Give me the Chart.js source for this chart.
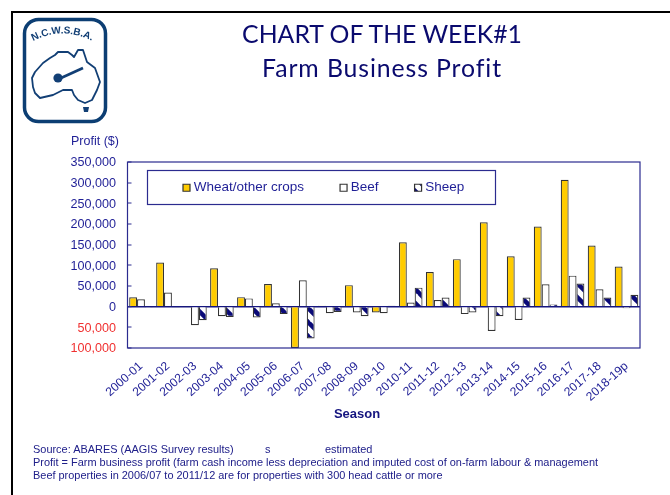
<!DOCTYPE html>
<html>
<head>
<meta charset="utf-8">
<script src="https://cdn.jsdelivr.net/npm/chart.js@4/dist/chart.umd.min.js"></script>
<style>
html,body{margin:0;padding:0;background:#fff;width:670px;height:495px;overflow:hidden}
#stage{position:relative;width:670px;height:495px}
#frame{position:absolute;left:11px;top:11px;width:659px;height:484px;border-left:2px solid #000;border-top:2px solid #000;box-sizing:border-box}
canvas{position:absolute;left:0;top:0}
.t{position:absolute;white-space:nowrap;font-family:"Liberation Sans",Arial,sans-serif;color:#1f1f96}
.title{font-family:Lato,"Open Sans",sans-serif;color:#0a0a6e;font-size:24.8px;line-height:33.5px;transform:translateX(-50%);text-align:center;font-variant-ligatures:none}
.fn{font-size:10.95px;line-height:13px;color:#20208a}
#logo{position:absolute;left:20px;top:16px}
</style>
</head>
<body>
<div id="stage">
<canvas id="c" width="670" height="495"></canvas>
<div id="frame"></div>
<svg id="logo" width="92" height="110" viewBox="20 16 92 110">
  <rect x="24.5" y="19.5" width="81" height="102" rx="14" fill="#fff" stroke="#0c3e73" stroke-width="3.5"/>
  <path id="arc" d="M33 41 Q66 24 99 45" fill="none"/>
  <text font-family="Liberation Sans,Arial,sans-serif" font-weight="bold" font-size="10" fill="#123f75"><textPath href="#arc" startOffset="0">N.C.W.S.B.A.</textPath></text>
  <path d="M32 78 L35 72 L43 63 L50 58 L55 55 L58 52 L68 52 L72 55 L74 57 L78 50 L83 50 L87 62 L95 68 L100 82 L97 90 L92 100 L85 103 L78 100 L74 95 L72 90 L63 90 L53 95 L40 98 L35 93 L33 87 Z" fill="#fff" stroke="#123f75" stroke-width="1.8" stroke-linejoin="round"/>
  <path d="M83 107 l6 0 l-1 5 l-4 0 Z" fill="#123f75"/>
  <line x1="61" y1="78" x2="83" y2="68" stroke="#123f75" stroke-width="2.8"/>
  <circle cx="58" cy="78" r="4.6" fill="#123f75"/>
</svg>
<div class="t title" style="left:382px;top:17px">CHART OF THE WEEK#1<br><span style="letter-spacing:.9px">Farm Business Profit</span></div>
<div class="t" style="left:71px;top:134px;font-size:12.5px">Profit ($)</div>
<div class="t" style="left:357px;top:406px;font-size:13px;font-weight:bold;transform:translateX(-50%);color:#14147f">Season</div>
<div class="t fn" style="left:33px;top:443px">Source: ABARES (AAGIS Survey results)</div>
<div class="t fn" style="left:265px;top:443px">s</div>
<div class="t fn" style="left:325px;top:443px">estimated</div>
<div class="t fn" style="left:33px;top:456px">Profit = Farm business profit (farm cash income less depreciation and imputed cost of on-farm labour &amp; management</div>
<div class="t fn" style="left:33px;top:469px">Beef properties in 2006/07 to 2011/12 are for properties with 300 head cattle or more</div>
</div>
<script>
const seasons = ["2000-01","2001-02","2002-03","2003-04","2004-05","2005-06","2006-07","2007-08","2008-09","2009-10","2010-11","2011-12","2012-13","2013-14","2014-15","2015-16","2016-17","2017-18","2018-19p"];
const wheat = [22500,107000,1000,93000,23000,55000,-100000,2500,52000,-14000,156000,84000,115000,204000,122000,194000,307000,148000,97000];
const beef = [18000,34000,-45000,-23000,20000,8000,64000,-16000,-14000,-16000,10000,16000,-18000,-59000,-32000,54000,75000,42000,-4000];
const sheep = [-2000,-1000,-33000,-25000,-26000,-18000,-77000,-13000,-23000,2000,46000,22000,-14000,-23000,22000,5000,56000,22000,29000];

const NAVY = "#1f1f96", RED = "#f03030", FRAME = "#2b2b8f";

function stripes(){
  const s = 14, p = document.createElement("canvas");
  p.width = s; p.height = s;
  const g = p.getContext("2d");
  g.fillStyle = "#fff"; g.fillRect(0,0,s,s);
  g.strokeStyle = "#0a0a78"; g.lineWidth = 4.5;
  for (let o = -s; o <= s; o += s){
    g.beginPath(); g.moveTo(o-1,-1); g.lineTo(o+s+1,s+1); g.stroke();
  }
  return g.createPattern(p,"repeat");
}

const frameAndLegend = {
  id:"frameAndLegend",
  beforeLayout(chart){
    chart.legend.isHorizontal = () => true;
  },
  afterLayout(chart){
    const l = chart.legend;
    l.left = 147; l.right = 660; l.top = 142; l.bottom = 210;
  },
  beforeDatasetsDraw(chart){
    const c = chart.ctx;
    c.save();
    c.strokeStyle = FRAME; c.lineWidth = 1.2;
    c.strokeRect(147.5,170.5,348,34);
    c.restore();
  },
  afterDraw(chart){
    const a = chart.chartArea, c = chart.ctx;
    c.save();
    c.strokeStyle = FRAME; c.lineWidth = 1.2;
    c.strokeRect(a.left,a.top,a.right-a.left,a.bottom-a.top);
    c.restore();
  }
};

const barStyle = {borderColor:"#333", borderWidth:1.2, categoryPercentage:0.875, barPercentage:1};

new Chart(document.getElementById("c"),{
  type:"bar",
  data:{
    labels:seasons,
    datasets:[
      Object.assign({label:"Wheat/other crops",data:wheat,backgroundColor:"#ffcc00"},barStyle),
      Object.assign({label:"Beef",data:beef,backgroundColor:"#ffffff"},barStyle),
      Object.assign({label:"Sheep",data:sheep,backgroundColor:stripes()},barStyle)
    ]
  },
  plugins:[frameAndLegend],
  options:{
    responsive:false,
    animation:false,
    layout:{padding:{left:0,top:162,right:30,bottom:87}},
    plugins:{
      tooltip:{enabled:false},
      title:{display:false},
      legend:{
        display:true,position:"chartArea",align:"start",
        labels:{usePointStyle:true,pointStyle:"rect",boxWidth:1,boxHeight:7,padding:39,color:NAVY,
          font:{family:"Liberation Sans",size:13.5}}
      }
    },
    scales:{
      x:{
        grid:{display:false},
        border:{display:false},
        afterFit(s){s.height=60;},
        ticks:{color:NAVY,autoSkip:false,minRotation:42,maxRotation:42,padding:3,
          font:{family:"Liberation Sans",size:12.2}}
      },
      y:{
        min:-100000,max:350000,
        afterFit(s){s.width=127.5;},
        border:{display:false},
        grid:{
          color:c=>c.tick&&c.tick.value===0?"#16167f":"rgba(0,0,0,0)",
          lineWidth:c=>c.tick&&c.tick.value===0?1.4:0,
          tickColor:FRAME,tickLength:-4,tickWidth:1,drawTicks:true
        },
        ticks:{stepSize:50000,padding:15.5,labelOffset:1,
          color:c=>c.tick.value<0?RED:NAVY,
          font:{family:"Liberation Sans",size:12.6},
          callback:v=>Math.abs(v).toLocaleString("en-US")}
      }
    }
  }
});
</script>
</body>
</html>
